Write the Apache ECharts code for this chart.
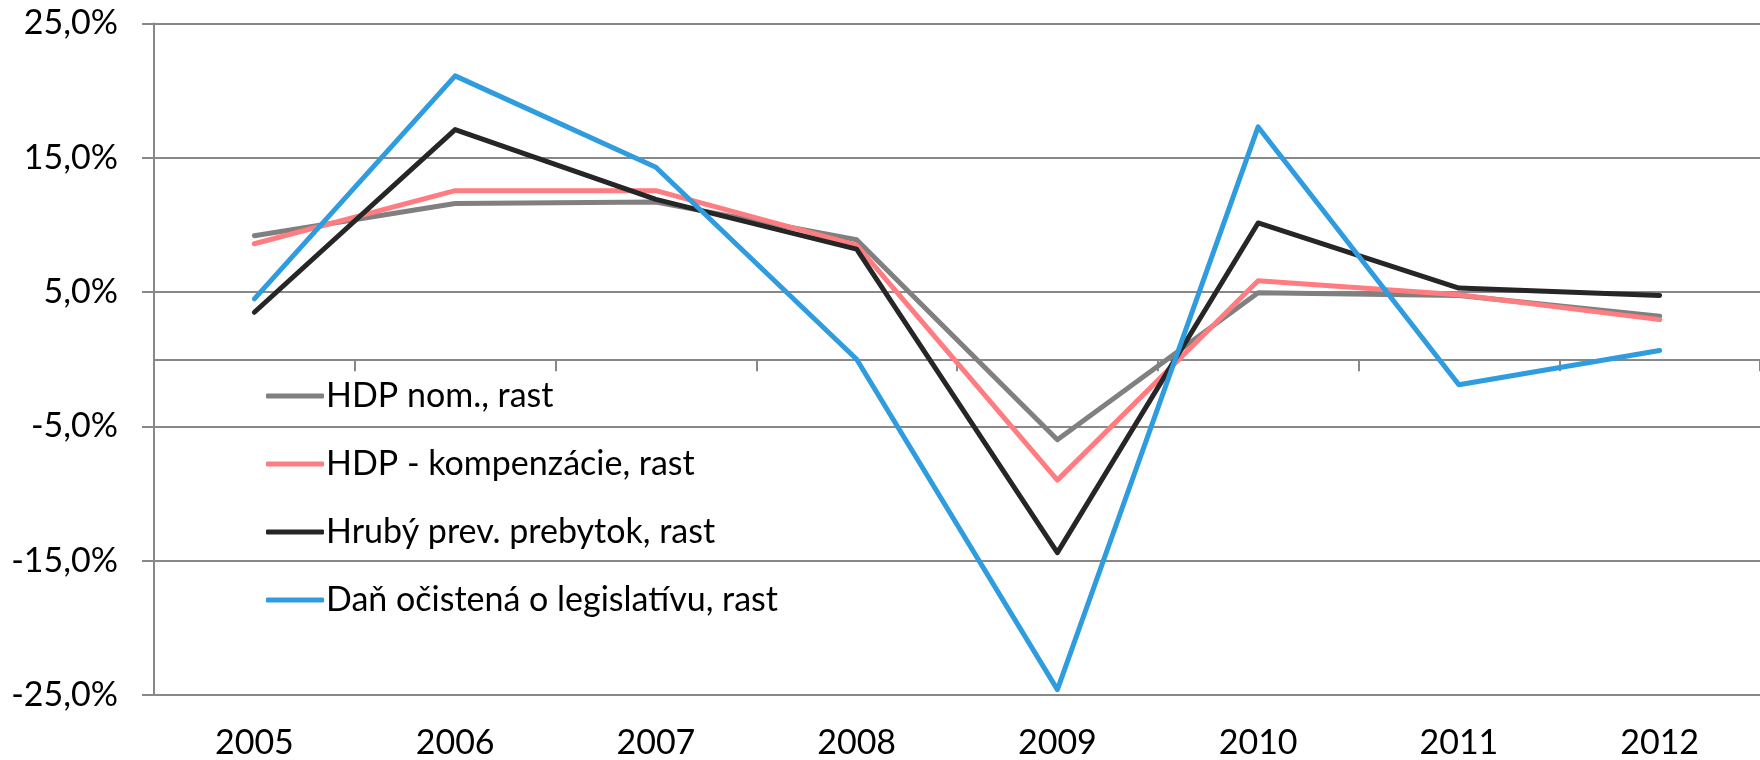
<!DOCTYPE html>
<html>
<head>
<meta charset="utf-8">
<script src="https://cdn.jsdelivr.net/npm/echarts@6/dist/echarts.min.js"></script>
<style>
  html, body { margin: 0; padding: 0; background: #fff; }
  #chart { width: 1760px; height: 760px; }
</style>
</head>
<body>
<div id="chart"></div>
<script>
// roky
var years = ['2005', '2006', '2007', '2008', '2009', '2010', '2011', '2012'];

// rast v %
var hdpNom = [9.2, 11.6, 11.7, 8.9, -6.0, 4.95, 4.75, 3.2];
var hdpKomp = [8.6, 12.55, 12.55, 8.5, -9.0, 5.85, 4.8, 2.95];
var hrubyPrebytok = [3.5, 17.1, 11.9, 8.2, -14.4, 10.15, 5.3, 4.75];
var danOcistena = [4.5, 21.1, 14.3, 0.0, -24.6, 17.3, -1.9, 0.65];

var seriesNames = ['HDP nom., rast', 'HDP - kompenzácie, rast', 'Hrubý prev. prebytok, rast', 'Daň očistená o legislatívu, rast'];
var seriesColors = ['#808080', '#ff7c80', '#262626', '#2e9cdf'];

var yTicks = [-25, -15, -5, 5, 15, 25];

var font = 'Lato, "Open Sans", sans-serif';
var gridColor = '#888888';

var myChart = echarts.init(document.getElementById('chart'));

var dataList = [hdpNom, hdpKomp, hrubyPrebytok, danOcistena];
var series = [];
for (var i = 0; i < dataList.length; i++) {
  series.push({
    name: seriesNames[i],
    type: 'line',
    data: dataList[i],
    symbol: 'none',
    smooth: false,
    color: seriesColors[i],
    lineStyle: { width: 5, color: seriesColors[i], cap: 'round', join: 'round' },
    emphasis: { disabled: true }
  });
}

var option = {
  animation: false,
  backgroundColor: '#fff',
  grid: {
    left: 154,
    right: -10,
    top: 23.5,
    bottom: 63.5,
    containLabel: false
  },
  legend: {
    orient: 'vertical',
    left: 261,
    top: 374,
    itemWidth: 58,
    itemHeight: 5,
    itemGap: 34,
    icon: 'roundRect',
    textStyle: { fontFamily: font, fontSize: 34, color: '#000', padding: [0, 0, 0, -3] },
    data: seriesNames
  },
  xAxis: [
    {
      type: 'category',
      data: years,
      position: 'bottom',
      boundaryGap: true,
      axisLine: { show: false, onZero: false },
      axisTick: { show: false },
      axisLabel: { fontFamily: font, fontSize: 34, color: '#000', margin: 31 },
      splitLine: { show: false }
    },
    {
      type: 'category',
      data: years,
      position: 'bottom',
      boundaryGap: true,
      axisLine: { show: true, onZero: true, lineStyle: { color: gridColor, width: 2 } },
      axisTick: { show: true, length: 12, lineStyle: { color: gridColor, width: 2 } },
      axisLabel: { show: false },
      splitLine: { show: false }
    }
  ],
  yAxis: {
    type: 'value',
    min: yTicks[0],
    max: yTicks[yTicks.length - 1],
    interval: 10,
    axisLine: { show: true, lineStyle: { color: gridColor, width: 2 } },
    axisTick: { show: true, length: 12, lineStyle: { color: gridColor, width: 2 } },
    axisLabel: {
      fontFamily: font,
      fontSize: 34,
      color: '#000',
      margin: 36,
      formatter: function (v) { return v.toFixed(1).replace('.', ',') + '%'; }
    },
    splitLine: { show: true, lineStyle: { color: gridColor, width: 2 } }
  },
  series: series
};

myChart.setOption(option);
</script>
</body>
</html>
